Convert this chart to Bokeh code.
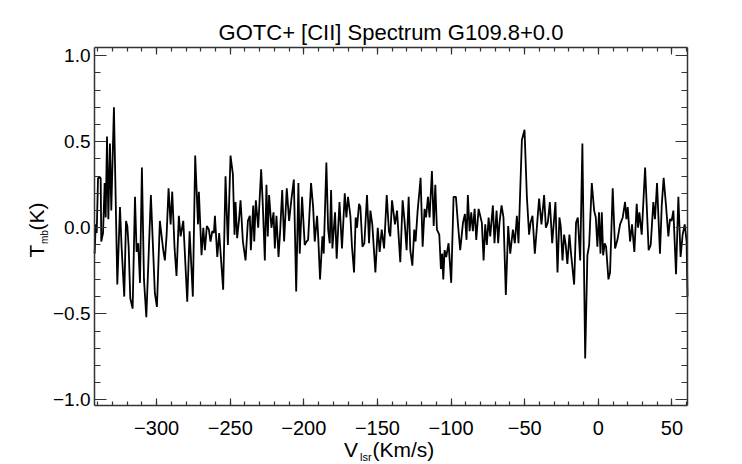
from bokeh.plotting import figure
from bokeh.models import FixedTicker, LinearAxis, Label, CustomJSTickFormatter, Range1d
from bokeh.embed import file_html
from bokeh.resources import INLINE
import math

# ---- data ----
vel = [
    -342.1, -341.4, -340.7, -339.8, -338.0, -337.6, -336.4, -335.3, -334.6, -333.7,
    -332.8, -331.7, -330.8, -329.0, -326.7, -324.9, -323.8, -322.0, -320.8, -319.9,
    -319.0, -317.9, -316.3, -314.7, -313.6, -312.5, -311.3, -310.0, -308.6, -307.0,
    -303.9, -301.2, -299.8, -297.8, -295.5, -294.4, -293.2, -291.9, -290.5, -289.4,
    -287.8, -286.5, -284.9, -283.7, -281.9, -279.2, -277.6, -275.4, -273.8,
    -271.9, -271.3, -269.5, -268.3, -267.2, -265.9, -264.5, -263.4, -262.2, -261.1,
    -260.4, -258.8, -257.5, -254.8, -253.2, -251.6, -249.8, -248.2, -247.1, -246.4,
    -245.3, -244.1, -243.0, -241.4, -239.6, -238.0, -236.7, -236.0, -234.4, -233.7,
    -232.6, -231.0, -229.0, -227.9, -226.5, -225.4, -224.5, -223.6, -222.0, -220.6,
    -219.7, -218.6, -217.2, -216.1, -214.7, -213.4, -211.6, -210.0, -208.4, -206.8,
    -205.2, -203.7, -202.8, -201.2, -199.4, -198.2, -197.1, -195.1, -193.7, -192.6,
    -191.0, -190.2, -189.0, -187.4, -186.5, -184.7, -183.5, -182.4, -181.5, -180.6,
    -178.8, -177.7, -175.8, -174.1, -172.2, -171.1, -170.0, -168.4, -167.3, -165.9,
    -164.8, -163.9, -162.5, -161.6, -160.2, -158.9, -157.1, -155.7, -154.8, -153.5,
    -151.4, -149.8, -148.5, -147.1, -145.5, -143.7, -142.2, -141.3, -140.1, -138.1,
    -136.7, -134.5, -132.9, -131.5, -130.2, -128.8, -127.7, -126.3, -125.0, -124.1,
    -122.7, -121.3, -120.7, -119.3, -118.0, -117.0, -115.7, -114.6, -113.0, -111.8,
    -110.7, -109.6, -108.0, -106.9, -106.0, -105.3, -104.4, -103.3, -101.7, -99.9,
    -98.3, -96.7, -95.3, -93.8, -91.9, -90.6, -89.5, -88.6, -87.4, -86.3,
    -85.2, -84.0, -82.9, -81.3, -80.2, -79.1, -77.9, -76.8, -75.7, -74.5,
    -73.4, -71.6, -70.5, -69.1, -68.0, -67.1, -65.7, -64.4, -62.8, -61.2,
    -59.8, -58.0, -56.7, -55.3, -54.2, -51.9, -50.1, -48.5, -47.0, -46.0,
    -44.7, -43.1, -40.2, -38.6, -36.8, -35.6, -34.3, -32.9, -31.3, -29.1,
    -27.7, -26.4, -25.5, -24.3, -23.2, -22.1, -21.0, -19.6, -18.5, -16.4,
    -15.1, -13.9, -12.3, -10.8, -8.9, -7.4, -6.2, -4.4,
    -2.8, -1.7, -0.6, 0.5, 1.5, 2.4, 3.3, 4.4, 5.3, 6.9,
    8.0, 9.8, 11.4, 13.0, 14.8, 16.6, 18.2, 19.1, 20.0, 21.6,
    22.9, 24.5, 26.1, 27.0, 27.9, 29.5, 31.8, 34.2, 35.6, 37.4,
    38.5, 39.9, 41.9, 43.1, 44.4, 46.0, 47.6, 48.7, 49.8, 51.0,
    52.8, 54.4, 55.9, 57.3, 58.7, 60.0, 60.6,
]
tmb = [
    -0.15, 0.02, -0.03, 0.29, 0.29, -0.08, -0.03, 0.26, 0.06, 0.53,
    0.05, 0.49, 0.10, 0.70, -0.33, 0.12, -0.11, -0.40, 0.04, 0.01,
    -0.11, -0.41, -0.47, 0.18, -0.14, -0.09, -0.32, 0.35, -0.30, -0.52,
    0.19, -0.38, -0.46, 0.04, -0.13, -0.19, -0.04, 0.23, 0.02, 0.21,
    -0.12, -0.28, 0.07, -0.05, 0.04, -0.43, -0.02, -0.40, 0.42,
    0.02, 0.21, -0.16, 0.00, -0.13, 0.01, -0.01, -0.08, -0.02, -0.03,
    0.07, -0.17, -0.03, -0.36, 0.30, -0.10, 0.42, 0.31, -0.04, 0.15,
    -0.06, 0.04, 0.16, -0.08, -0.19, 0.04, 0.07, -0.13, 0.13, -0.08,
    0.16, 0.00, 0.34, 0.14, -0.19, 0.25, -0.05, 0.19, 0.00, 0.09,
    -0.12, 0.07, -0.17, -0.02, 0.22, -0.08, 0.23, 0.04, 0.17, 0.28,
    -0.37, 0.26, -0.15, 0.18, -0.10, -0.08, -0.07, 0.26, 0.12, -0.08,
    0.07, -0.06, -0.30, -0.05, -0.15, 0.38, -0.01, -0.09, 0.22, -0.12,
    0.09, -0.18, 0.15, -0.12, 0.20, 0.06, 0.18, 0.07, -0.11, -0.26,
    0.06, 0.00, 0.14, 0.12, -0.11, -0.09, 0.19, -0.09, 0.10, 0.02,
    -0.26, 0.00, -0.14, -0.01, -0.12, 0.19, -0.02, -0.05, 0.16, 0.02,
    0.10, -0.20, 0.16, 0.03, -0.13, 0.18, -0.13, -0.22, -0.01, -0.08,
    0.10, 0.23, 0.29, -0.11, 0.11, 0.06, 0.18, 0.06, 0.33, 0.01,
    0.25, -0.01, -0.04, -0.24, -0.15, -0.30, -0.13, -0.17, -0.09, -0.32,
    0.18, 0.18, 0.02, -0.13, 0.03, 0.08, -0.07, 0.19, -0.02, 0.09,
    -0.02, 0.11, -0.07, 0.11, 0.07, 0.03, -0.19, 0.02, -0.10, 0.06,
    -0.05, 0.13, -0.09, 0.10, -0.09, 0.03, 0.13, 0.06, -0.39, 0.01,
    -0.15, -0.01, -0.09, 0.07, -0.09, 0.51, 0.57, 0.18, -0.04, 0.03,
    0.07, -0.15, 0.17, 0.02, 0.19, 0.00, 0.03, 0.15, -0.09, 0.15,
    -0.26, 0.06, 0.01, -0.19, -0.04, -0.10, -0.21, -0.04, -0.15, -0.33,
    0.03, 0.06, -0.19, 0.49, -0.76, -0.16, -0.10, 0.26,
    0.10, 0.06, -0.11, 0.09, -0.15, 0.09, -0.16, -0.09, -0.11, -0.30,
    -0.26, 0.23, -0.12, -0.07, 0.02, 0.06, 0.15, 0.05, 0.12, -0.08,
    0.02, -0.14, 0.14, 0.00, 0.09, -0.04, 0.35, -0.13, -0.10, 0.15,
    0.05, 0.26, -0.15, 0.13, 0.29, 0.13, -0.05, 0.05, 0.04, 0.10,
    -0.27, 0.18, -0.17, -0.04, 0.02, -0.08, -0.40,
]

x_ticks = [-300, -250, -200, -150, -100, -50, 0, 50]
x_tick_labels = ["\u2212300", "\u2212250", "\u2212200", "\u2212150", "\u2212100", "\u221250", "0", "50"]
x_minor = list(range(-340, 61, 10))
y_ticks = [-1.0, -0.5, 0.0, 0.5, 1.0]
y_tick_labels = ["\u22121.0", "\u22120.5", "0.0", "0.5", "1.0"]
y_minor = [round(-1.0 + 0.1 * i, 1) for i in range(21)]

title_text = "GOTC+ [CII] Spectrum G109.8+0.0"
FONT = "Liberation Sans"
AXC = "#333333"

# axis box (data limits) and its place on the canvas
XLO, XHI = -342.2, 60.6
YLO, YHI = -1.033, 1.048
W, H = 742, 464
BOX_L, BOX_R, BOX_T, BOX_B = 94, 687, 47, 405
kx = (XHI - XLO) / (BOX_R - BOX_L)
ky = (YHI - YLO) / (BOX_B - BOX_T)
xr = Range1d(XLO - BOX_L * kx, XHI + (W - BOX_R) * kx)
yr = Range1d(YLO - (H - BOX_B) * ky, YHI + BOX_T * ky)

p = figure(width=W, height=H, output_backend="svg", toolbar_location=None,
           x_range=xr, y_range=yr, min_border=0,
           x_axis_location=None, y_axis_location=None)
p.xgrid.visible = False
p.ygrid.visible = False
p.outline_line_color = None
p.background_fill_color = "white"
p.border_fill_color = "white"

p.line(vel, tmb, line_color="black", line_width=1.8)

def style(ax, major_in, minor_in):
    ax.major_tick_in = major_in
    ax.major_tick_out = 0
    ax.minor_tick_in = minor_in
    ax.minor_tick_out = 0
    ax.axis_line_color = AXC
    ax.axis_line_width = 1.5
    ax.major_tick_line_color = AXC
    ax.minor_tick_line_color = AXC
    ax.major_tick_line_width = 1.2
    ax.minor_tick_line_width = 1.2
    ax.major_label_text_font = FONT
    ax.major_label_text_font_size = "20px"
    ax.major_label_text_color = "black"

xt = FixedTicker(ticks=x_ticks, minor_ticks=x_minor)
yt = FixedTicker(ticks=y_ticks, minor_ticks=y_minor)

bottom = LinearAxis(ticker=xt, fixed_location=YLO, bounds=(XLO, XHI))
style(bottom, 7, 4)
bottom.major_label_overrides = dict(zip(x_ticks, x_tick_labels))
bottom.major_label_standoff = 15
p.add_layout(bottom, "below")

top = LinearAxis(ticker=xt, fixed_location=YHI, bounds=(XLO, XHI),
                 formatter=CustomJSTickFormatter(code="return ''"))
style(top, 7, 4)
p.add_layout(top, "above")

left = LinearAxis(ticker=yt, fixed_location=XLO, bounds=(YLO, YHI))
style(left, 12, 6)
left.major_label_text_font_size = "19px"
left.major_label_overrides = dict(zip(y_ticks, y_tick_labels))
left.major_label_standoff = 4
p.add_layout(left, "left")

right = LinearAxis(ticker=yt, fixed_location=XHI, bounds=(YLO, YHI),
                   formatter=CustomJSTickFormatter(code="return ''"))
style(right, 12, 6)
p.add_layout(right, "right")

SHIFT = 0.35  # labels sit this many em below their anchor

def hlab(x, base_y, text, size, align="left"):
    # x: canvas px from left; base_y: baseline, canvas px from top
    p.add_layout(Label(x=x, y=H - base_y + SHIFT * size, x_units="screen", y_units="screen",
                       text=text, text_font=FONT, text_font_size=f"{size}px",
                       text_align=align, text_baseline="alphabetic", text_color="black"))

def vlab(base_x, start_y, text, size):
    # rotated text reading upward; base_x: baseline px from left; start_y: px from top
    p.add_layout(Label(x=base_x - SHIFT * size, y=H - start_y, x_units="screen", y_units="screen",
                       text=text, text_font=FONT, text_font_size=f"{size}px", angle=math.pi / 2,
                       text_align="left", text_baseline="alphabetic", text_color="black"))

# title
hlab((BOX_L + BOX_R) / 2, 39.3, title_text, 22, align="center")
# x axis label: V_lsr(Km/s)
hlab(343.5, 456.0, "V", 21)
hlab(359.5, 460.0, "lsr", 11)
hlab(372, 456.0, "(Km/s)", 21)
# y axis label: T_mb(K)
vlab(43, 257, "T", 21)
vlab(47, 243.5, "mb", 10)
vlab(43, 230, "(K)", 21)

open("out.html", "w").write(file_html(p, INLINE))
